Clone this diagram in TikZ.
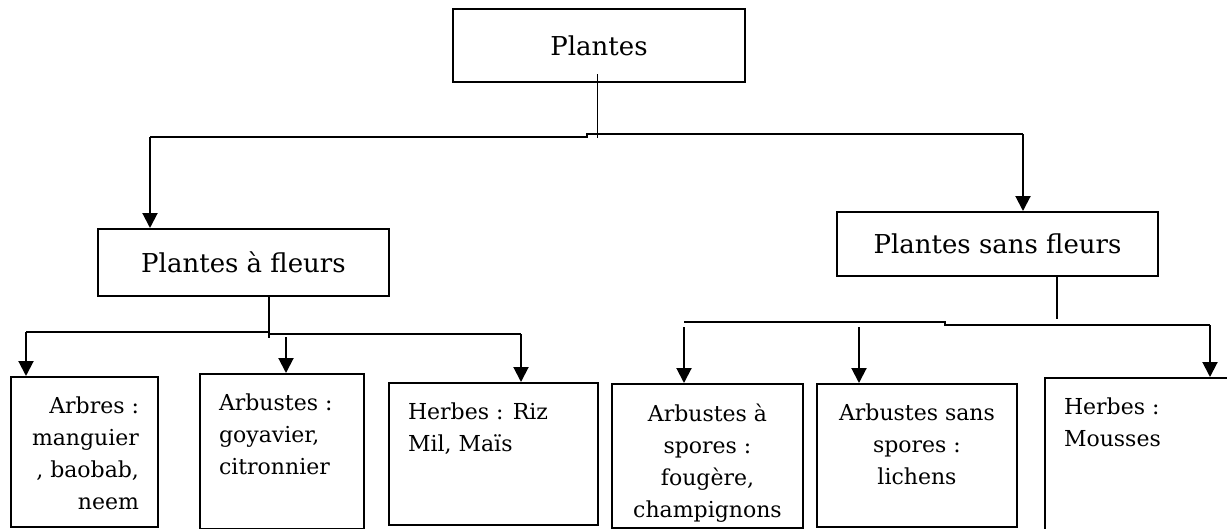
\documentclass[tikz,border=0pt]{standalone}
\usepackage{fontspec}
\setmainfont{DejaVu Serif}
\usetikzlibrary{arrows.meta}

\newcommand{\leaftext}[3]{\parbox[t][#1pt][t]{#2pt}{#3}}

\begin{document}
\begin{tikzpicture}[x=1pt,y=-1pt,line width=2pt,
    tier/.style={draw,font=\fontsize{26}{32}\selectfont},
    leaf/.style={draw,anchor=north west,inner xsep=19pt,inner ysep=20pt,font=\fontsize{22}{32}\selectfont},
    arr/.style={-{Triangle[length=15pt,width=15pt]}}]
    \useasboundingbox (0,0) rectangle (1227,528);
    %niveau 1
    \node[tier,minimum width=292,minimum height=73] (plantes) at (599,45.5) {Plantes};
    \node[tier,minimum width=291,minimum height=67] (fleurs) at (243.5,262.5) {Plantes à fleurs};
    \node[tier,minimum width=321,minimum height=64] (sfleurs) at (997.5,244) {Plantes sans fleurs};
    %niveau 2
    \node[leaf] (arbres) at (10,376) {\leaftext{110}{109}{\raggedleft Arbres :\\ manguier\\ , baobab,\\ neem}};
    \node[leaf] (arbustes) at (199,373) {\leaftext{115}{126}{\raggedright Arbustes :\\ goyavier,\\ citronnier}};
    \node[leaf] (herbes) at (388,382) {\leaftext{102}{171}{\raggedright Herbes : Riz\\ Mil, Maïs}};
    \node[leaf] (aspores) at (611,383) {\leaftext{104}{153}{\centering Arbustes à\\ spores :\\ fougère,\\ champignons}};
    \node[leaf] (sspores) at (816,383) {\leaftext{103}{162}{\centering Arbustes sans\\ spores :\\ lichens}};
    \node[leaf] (mousses) at (1044,377) {\leaftext{143}{158}{\raggedright Herbes :\\ Mousses}};
    \coordinate (b0) at (597,138);
    \coordinate (l0) at (150,137);
    \coordinate (r0) at (1023,134);
    \coordinate (b1) at (269,338);
    \coordinate (l1) at (26,332);
    \coordinate (m1) at (286,337);
    \coordinate (r1) at (521,334);
    \coordinate (b2) at (1057,319);
    \coordinate (l2) at (684,322);
    \coordinate (m2) at (859,327);
    \coordinate (r2) at (1210,325);
    \draw[line width=1pt] ([yshift=9pt]plantes.south -| b0) -- (b0);
    \draw (l0) -- ++(437,0) |- (r0);
    \draw[arr] (l0) -- (fleurs.north -| l0);
    \draw[arr] (r0) -- (sfleurs.north -| r0);
    \draw (fleurs.south -| b1) -- (b1);
    \draw (l1) -- ++(243,0) |- (r1);
    \draw[arr] (l1) -- (arbres.north -| l1);
    \draw[arr] (m1) -- (arbustes.north -| m1);
    \draw[arr] (r1) -- (herbes.north -| r1);
    \draw (sfleurs.south -| b2) -- (b2);
    \draw (l2) -- ++(261,0) |- (r2);
    \draw[arr] ([yshift=-5pt]l2) -- (aspores.north -| l2);
    \draw[arr] (m2) -- (sspores.north -| m2);
    \draw[arr] (r2) -- (mousses.north -| r2);
\end{tikzpicture}
\end{document}
